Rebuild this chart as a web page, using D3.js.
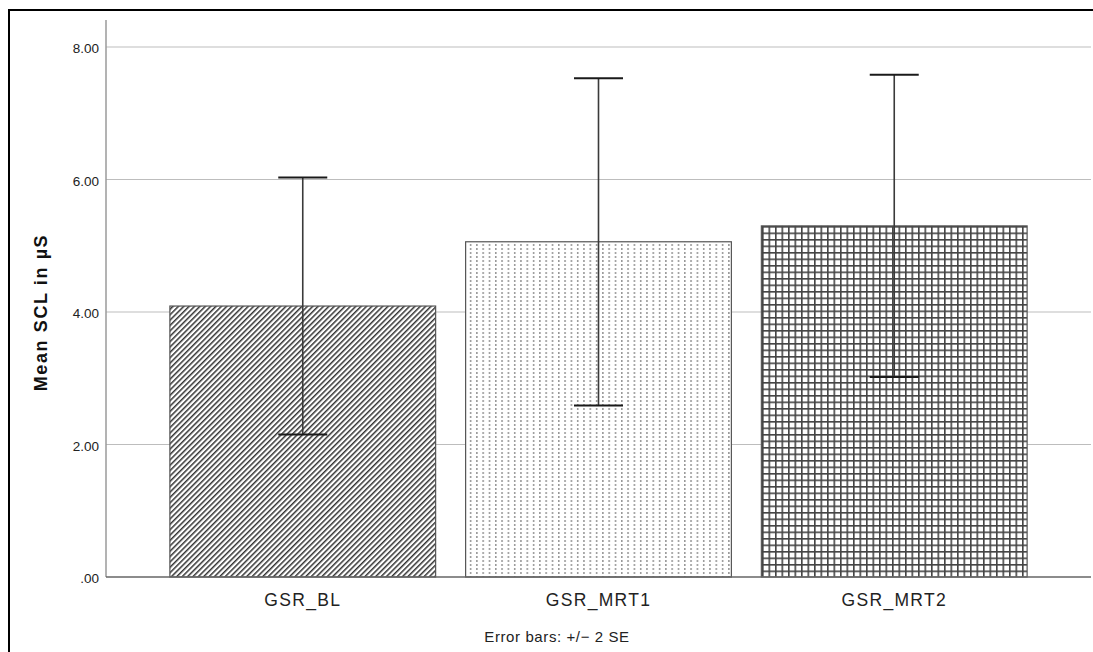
<!DOCTYPE html>
<html><head><meta charset="utf-8">
<script src="https://cdn.jsdelivr.net/npm/d3@7"></script>
<style>body{margin:0;background:#fff;}svg{display:block;font-family:"Liberation Sans",Arial,sans-serif;}</style>
</head><body>
<script>
const categories = ["GSR_BL", "GSR_MRT1", "GSR_MRT2"];
const means = [4.09, 5.06, 5.30];
const lower = [2.15, 2.59, 3.02];
const upper = [6.03, 7.53, 7.58];
const yTicks = [0, 2, 4, 6, 8];
const tickLabels = [".00", "2.00", "4.00", "6.00", "8.00"];
const patterns = ["diag", "dots", "grid"];

const W = 1093, H = 652;
const svg = d3.select("body").append("svg").attr("width", W).attr("height", H);
const defs = svg.append("defs");

// patterns
const p1 = defs.append("pattern").attr("id", "diag").attr("patternUnits", "userSpaceOnUse")
  .attr("width", 3.8).attr("height", 3.8).attr("patternTransform", "rotate(45)");
p1.append("rect").attr("width", 3.8).attr("height", 3.8).attr("fill", "#fff");
p1.append("rect").attr("x", 0).attr("y", 0).attr("width", 1.5).attr("height", 3.8).attr("fill", "#333");

const p2 = defs.append("pattern").attr("id", "dots").attr("patternUnits", "userSpaceOnUse")
  .attr("width", 6.3).attr("height", 4).attr("x", 468);
p2.append("rect").attr("width", 6.3).attr("height", 4).attr("fill", "#fff");
p2.append("rect").attr("x", 2).attr("y", 0).attr("width", 1.2).attr("height", 2).attr("fill", "#7a7a7a");

const p3 = defs.append("pattern").attr("id", "grid").attr("patternUnits", "userSpaceOnUse")
  .attr("width", 6.5).attr("height", 6.5).attr("x", 762).attr("y", 226);
p3.append("rect").attr("width", 6.5).attr("height", 6.5).attr("fill", "#fff");
p3.append("rect").attr("x", 0).attr("y", 0).attr("width", 1.6).attr("height", 6.5).attr("fill", "#444");
p3.append("rect").attr("x", 0).attr("y", 0).attr("width", 6.5).attr("height", 1.6).attr("fill", "#444");

// outer frame
svg.append("path").attr("d", `M9,${H+5} L9,10 L${W+5},10`).attr("fill", "none")
  .attr("stroke", "#000").attr("stroke-width", 2);

const x0 = 106, x1 = 1091, yTop = 20, yBase = 577;
const y = d3.scaleLinear().domain([0, 8]).range([yBase, 47]);
const x = d3.scaleBand().domain(categories).range([x0, x1])
  .paddingInner(0.1014).paddingOuter(0.216);

// gridlines
svg.append("g").selectAll("line").data(yTicks.filter(d => d > 0)).join("line")
  .attr("x1", x0).attr("x2", x1).attr("y1", d => y(d)).attr("y2", d => y(d))
  .attr("stroke", "#bdbdbd").attr("stroke-width", 1);

// y axis
const yAxis = d3.axisLeft(y).tickValues(yTicks).tickSize(0).tickPadding(7)
  .tickFormat((d, i) => tickLabels[i]);
const gy = svg.append("g").attr("transform", `translate(${x0},1.5)`).call(yAxis);
gy.select(".domain").remove();
gy.selectAll("text").attr("font-size", 13.5).attr("fill", "#222")
  .attr("font-family", "Liberation Sans, Arial, sans-serif");
svg.append("line").attr("x1", x0).attr("x2", x0).attr("y1", yTop).attr("y2", yBase)
  .attr("stroke", "#9a9a9a").attr("stroke-width", 1.5);

// bars
svg.append("g").selectAll("rect").data(categories).join("rect")
  .attr("x", d => x(d)).attr("width", x.bandwidth())
  .attr("y", (d, i) => y(means[i])).attr("height", (d, i) => yBase - y(means[i]))
  .attr("fill", (d, i) => `url(#${patterns[i]})`)
  .attr("stroke", "#555").attr("stroke-width", 1.2);

// x axis
const xAxis = d3.axisBottom(x).tickSize(0).tickPadding(16.5);
const gx = svg.append("g").attr("transform", `translate(0,${yBase})`).call(xAxis);
gx.select(".domain").remove();
gx.selectAll("text").attr("font-size", 17.5).attr("fill", "#222")
  .attr("letter-spacing", 1.3)
  .attr("font-family", "Liberation Sans, Arial, sans-serif");
svg.append("line").attr("x1", x0).attr("x2", x1).attr("y1", yBase).attr("y2", yBase)
  .attr("stroke", "#666").attr("stroke-width", 1.5);

// error bars
const eg = svg.append("g");
categories.forEach((c, i) => {
  const cx = x(c) + x.bandwidth() / 2;
  eg.append("line").attr("x1", cx).attr("x2", cx).attr("y1", y(upper[i])).attr("y2", y(lower[i]))
    .attr("stroke", "#3a3a3a").attr("stroke-width", 1.6);
  [upper[i], lower[i]].forEach(v => {
    eg.append("line").attr("x1", cx - 24.5).attr("x2", cx + 24.5).attr("y1", y(v)).attr("y2", y(v))
      .attr("stroke", "#1a1a1a").attr("stroke-width", 2);
  });
});

// y title
svg.append("text").attr("transform", `translate(47,${(yTop + yBase) / 2 + 14}) rotate(-90)`)
  .attr("text-anchor", "middle").attr("font-size", 18).attr("font-weight", "bold")
  .attr("letter-spacing", 1.6)
  .attr("fill", "#111").text("Mean SCL in µS");

// footnote
svg.append("text").attr("x", 557).attr("y", 642).attr("text-anchor", "middle")
  .attr("font-size", 15).attr("letter-spacing", 0.6).attr("fill", "#222")
  .text("Error bars:  +/\u2212 2 SE");
</script>
</body></html>
